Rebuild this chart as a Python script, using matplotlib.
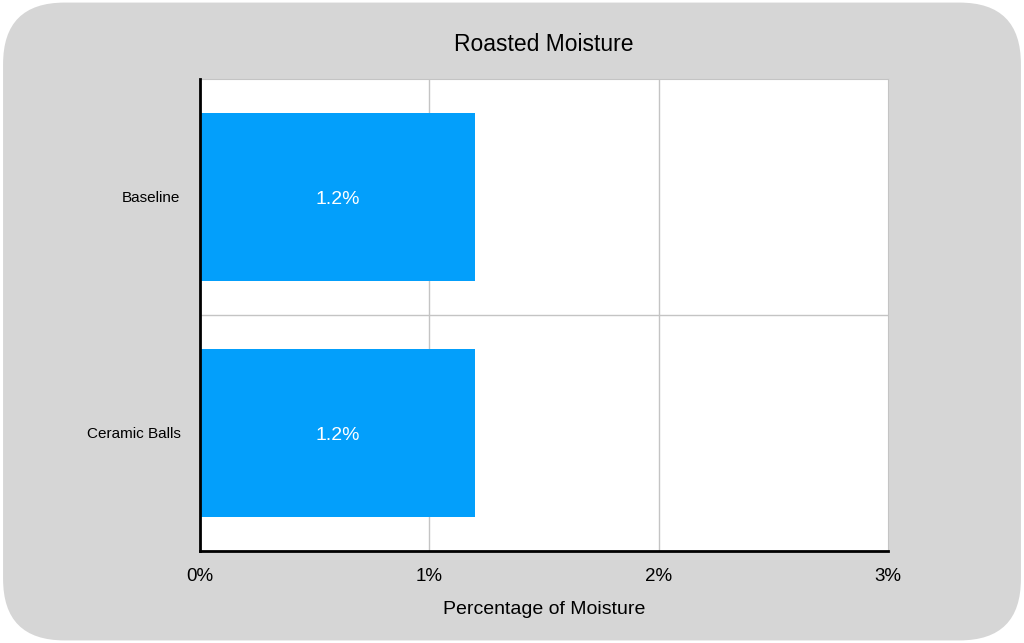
import matplotlib
matplotlib.use("Agg")
import matplotlib.pyplot as plt
from matplotlib.patches import FancyBboxPatch

plt.rcParams['font.family'] = ['Liberation Sans', 'DejaVu Sans']

categories = ["Baseline", "Ceramic Balls"]
moisture = [1.2, 1.2]
bar_labels = ["1.2%", "1.2%"]
xticks = [0, 1, 2, 3]
xtick_labels = ["0%", "1%", "2%", "3%"]

fig = plt.figure(figsize=(10.24, 6.43), dpi=100)
fig.patch.set_facecolor("white")

# rounded grey card behind everything
bg = FancyBboxPatch((0.003, 0.004), 0.994, 0.992,
                    boxstyle="round,pad=0,rounding_size=0.06",
                    transform=fig.transFigure, facecolor="#d6d6d6",
                    edgecolor="none", mutation_aspect=1024/643, zorder=-10)
fig.patches.append(bg)

ax = fig.add_axes([200/1024, 1-551/643, 688/1024, 472/643])
ax.set_zorder(1)
ax.set_facecolor("white")

ypos = list(range(len(categories)))
ax.barh(ypos, moisture, height=0.71, color="#039ffb", zorder=2)
for y, v, lab in zip(ypos, moisture, bar_labels):
    ax.text(v/2, y + 0.012, lab, ha="center", va="center", color="white", fontsize=14, zorder=3)

ax.set_xlim(0, 3)
ax.set_ylim(len(categories)-0.5, -0.5)
ax.set_xticks(xticks)
ax.set_xticklabels(xtick_labels, fontsize=13.5)
ax.set_yticks(ypos)
ax.set_yticklabels(categories, fontsize=11)
ax.tick_params(axis="x", length=0, pad=12)
ax.tick_params(axis="y", length=0, pad=14)

for xv in xticks[1:-1]:
    ax.axvline(xv, color="#c4c4c4", lw=1, zorder=1)
for i in range(len(categories)-1):
    ax.axhline(i+0.5, color="#c4c4c4", lw=1, zorder=1)

ax.spines["left"].set_linewidth(2)
ax.spines["bottom"].set_linewidth(2)
ax.spines["left"].set_color("black")
ax.spines["bottom"].set_color("black")
ax.spines["top"].set_color("#c4c4c4")
ax.spines["right"].set_color("#c4c4c4")
ax.spines["left"].set_zorder(4)

ax.set_title("Roasted Moisture", fontsize=16.5, pad=20)
ax.set_xlabel("Percentage of Moisture", fontsize=14, labelpad=12)

fig.savefig("out.png", dpi=100)
